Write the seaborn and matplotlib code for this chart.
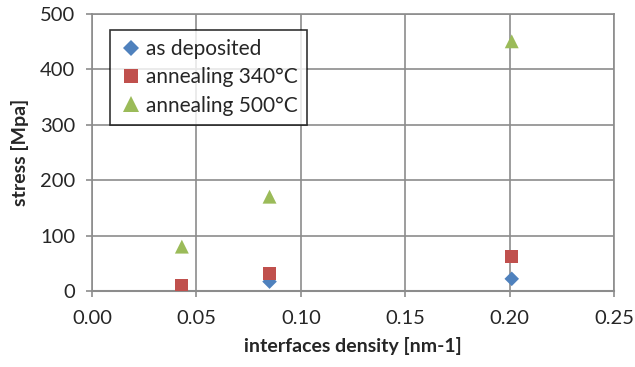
import pandas as pd
import seaborn as sns
import matplotlib.pyplot as plt

# values
density_as_dep = [0.085, 0.201]
stress_as_dep = [17, 22]
density_340 = [0.043, 0.085, 0.201]
stress_340 = [9, 31, 62]
density_500 = [0.043, 0.085, 0.201]
stress_500 = [80, 170, 450]

series = ['as deposited', 'annealing 340°C', 'annealing 500°C']
colors = ['#4F81BD', '#C0504D', '#9BBB59']
markers = ['D', 's', '^']
sizes = [55, 90, 100]

df = pd.concat([
    pd.DataFrame({'density': density_as_dep, 'stress': stress_as_dep, 'series': series[0]}),
    pd.DataFrame({'density': density_340, 'stress': stress_340, 'series': series[1]}),
    pd.DataFrame({'density': density_500, 'stress': stress_500, 'series': series[2]}),
])

sns.set_style("white")
plt.rcParams['font.family'] = ['Lato', 'DejaVu Sans']

fig, ax = plt.subplots(figsize=(6.35, 3.67), dpi=100)
fig.subplots_adjust(left=0.145, right=0.967, bottom=0.207, top=0.963)

sns.scatterplot(data=df, x='density', y='stress', hue='series', style='series', size='series',
                hue_order=series, style_order=series, size_order=series,
                palette=dict(zip(series, colors)), markers=dict(zip(series, markers)),
                sizes=dict(zip(series, sizes)), linewidth=0, ax=ax, zorder=3)

ax.set_xlim(0, 0.25)
ax.set_ylim(0, 500)
ax.set_xticks([0, 0.05, 0.10, 0.15, 0.20, 0.25])
ax.set_xticklabels(['0.00', '0.05', '0.10', '0.15', '0.20', '0.25'])
ax.set_yticks([0, 100, 200, 300, 400, 500])
ax.grid(True, color='#8c8c8c', linewidth=1.2)
ax.set_axisbelow(True)
for side in ['top', 'right', 'left']:
    ax.spines[side].set_color('#8c8c8c')
    ax.spines[side].set_linewidth(1.2)
ax.spines['bottom'].set_color('#8c8c8c')
ax.spines['bottom'].set_linewidth(1.5)
ax.tick_params(axis='both', labelsize=14.5, color='#8c8c8c', length=4, width=1.2,
               direction='out', bottom=True, left=True)
ax.tick_params(axis='x', pad=10)
ax.tick_params(axis='y', pad=8)
ax.set_xlabel('interfaces density [nm-1]', fontsize=14, fontweight='bold', labelpad=7)
ax.set_ylabel('stress [Mpa]', fontsize=14, fontweight='bold', labelpad=8)

leg = ax.legend(loc='upper left', bbox_to_anchor=(0.015, 0.98), fontsize=15,
                frameon=True, fancybox=False, edgecolor='black',
                handletextpad=0.15, borderpad=0.45, labelspacing=0.4, handlelength=1.1)
leg.get_frame().set_linewidth(1.2)
for h, ms in zip(leg.legend_handles, [8, 10, 11]):
    h.set_markersize(ms)

plt.savefig('out.png', dpi=100)
